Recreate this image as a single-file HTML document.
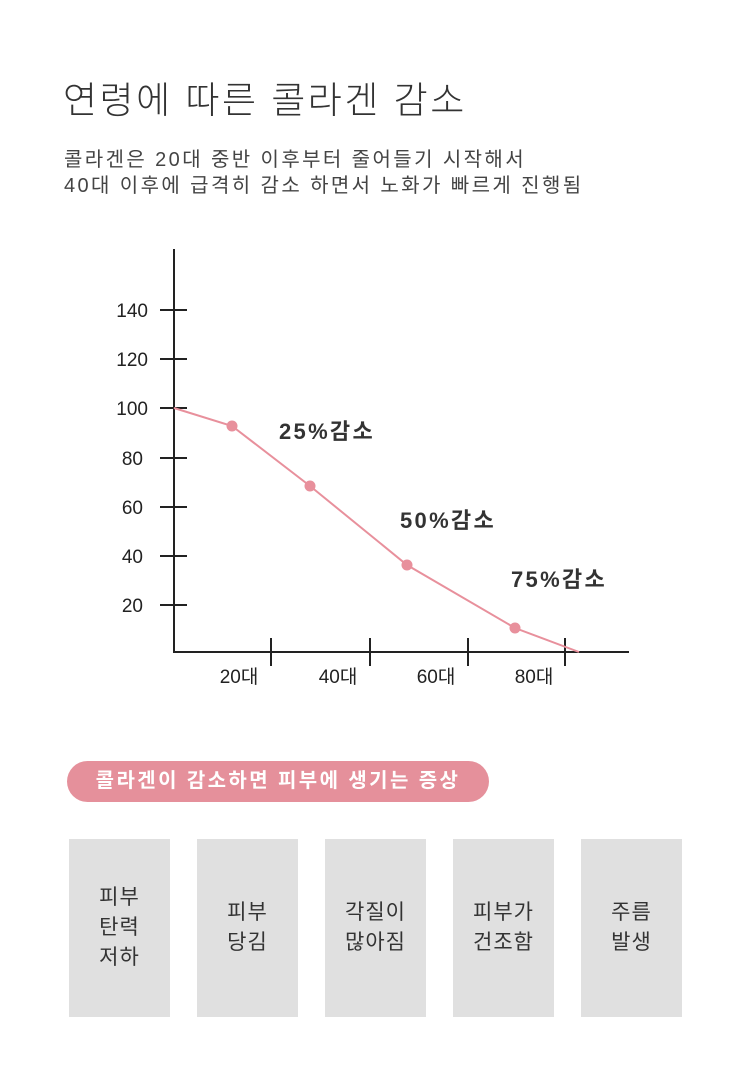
<!DOCTYPE html>
<html><head><meta charset="utf-8"><style>
body{margin:0;width:750px;height:1066px;background:#fff;font-family:"Liberation Sans","Noto Sans CJK KR",sans-serif;color:#333;position:relative;overflow:hidden}
.t{position:absolute;left:63px;top:70px;font-size:37px;font-weight:300;color:#333;letter-spacing:2.5px}
.s{position:absolute;left:64px;top:147px;font-size:20px;line-height:26px;color:#444;letter-spacing:2.4px;white-space:nowrap}
.pill{position:absolute;left:67px;top:761px;width:422px;height:41px;border-radius:21px;background:#e5909b;color:#fff;font-weight:bold;font-size:20px;line-height:41px;text-align:center;letter-spacing:2.4px;white-space:nowrap}
.b{position:absolute;top:839px;width:101px;height:178px;background:#e0e0e0;display:flex;align-items:center;justify-content:center;text-align:center;font-size:21px;line-height:30px;color:#333;letter-spacing:1px}
</style></head><body>
<div class="t">연령에 따른 콜라겐 감소</div>
<div class="s">콜라겐은 20대 중반 이후부터 줄어들기 시작해서<br>40대 이후에 급격히 감소 하면서 노화가 빠르게 진행됨</div>
<svg width="750" height="1066" style="position:absolute;left:0;top:0" font-family="Liberation Sans, Noto Sans CJK KR, sans-serif">
<g stroke="#222" stroke-width="2">
<line x1="174" y1="249" x2="174" y2="653"/><line x1="173" y1="652" x2="629" y2="652"/>
<line x1="160" y1="310" x2="187" y2="310"/><line x1="160" y1="359" x2="187" y2="359"/><line x1="160" y1="408" x2="187" y2="408"/><line x1="160" y1="458" x2="187" y2="458"/><line x1="160" y1="507" x2="187" y2="507"/><line x1="160" y1="556" x2="187" y2="556"/><line x1="160" y1="605" x2="187" y2="605"/>
<line x1="271" y1="638" x2="271" y2="666"/><line x1="370" y1="638" x2="370" y2="666"/><line x1="468" y1="638" x2="468" y2="666"/><line x1="565" y1="638" x2="565" y2="666"/>
</g>
<g font-size="19" fill="#222" text-anchor="end">
<text x="148" y="317">140</text><text x="148" y="366">120</text><text x="148" y="415">100</text><text x="143" y="465">80</text><text x="143" y="514">60</text><text x="143" y="563">40</text><text x="143" y="612">20</text>
</g>
<g font-size="19" fill="#222" text-anchor="middle">
<text x="239" y="683">20대</text><text x="338" y="683">40대</text><text x="436" y="683">60대</text><text x="534" y="683">80대</text>
</g>
<polyline points="174,408 232,426 310,486 407,565 515,628 579,652" fill="none" stroke="#e8909c" stroke-width="2"/>
<g fill="#e8909c"><circle cx="232" cy="426" r="5.5"/><circle cx="310" cy="486" r="5.5"/><circle cx="407" cy="565" r="5.5"/><circle cx="515" cy="628" r="5.5"/></g>
<g font-size="22" font-weight="bold" fill="#333" letter-spacing="2.3">
<text x="279" y="439">25%감소</text><text x="400" y="528">50%감소</text><text x="511" y="587">75%감소</text>
</g>
</svg>
<div class="pill">콜라겐이 감소하면 피부에 생기는 증상</div>
<div class="b" style="left:69px">피부<br>탄력<br>저하</div>
<div class="b" style="left:197px">피부<br>당김</div>
<div class="b" style="left:325px">각질이<br>많아짐</div>
<div class="b" style="left:453px">피부가<br>건조함</div>
<div class="b" style="left:581px">주름<br>발생</div>
</body></html>
